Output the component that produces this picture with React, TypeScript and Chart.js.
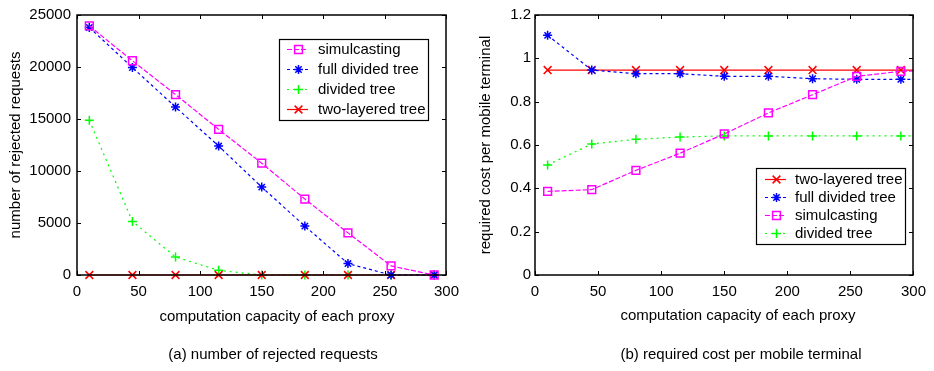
import React, { useEffect, useRef } from "react";
import { Chart, registerables } from "chart.js";

Chart.register(...registerables);

const FONT = '"Liberation Sans", Arial, Helvetica, sans-serif';

// ---- data ----
const capacity = [10, 45, 80, 115, 150, 185, 220, 255, 290];
const xTickValues = [0, 50, 100, 150, 200, 250, 300];

// (a) number of rejected requests
const rejectedSimulcasting = [23950, 20600, 17350, 14000, 10750, 7300, 4050, 870, 0];
const rejectedFullDivided = [23800, 19950, 16150, 12400, 8450, 4700, 1100, 0, 0];
const rejectedDivided = [14870, 5150, 1730, 450, 0, 0, 0, 0, 0];
const rejectedTwoLayered = [0, 0, 0, 0, 0, 0, 0, 0, 0];
const rejectedTicks = [0, 5000, 10000, 15000, 20000, 25000];

// (b) required cost per mobile terminal (last point lies beyond the axis limit)
const costCapacity = [10, 45, 80, 115, 150, 185, 220, 255, 290, 325];
const costTwoLayered = [0.946, 0.946, 0.946, 0.946, 0.946, 0.946, 0.946, 0.946, 0.946, 0.946];
const costFullDivided = [1.106, 0.946, 0.929, 0.929, 0.917, 0.917, 0.906, 0.903, 0.903, 0.903];
const costSimulcasting = [0.386, 0.394, 0.483, 0.562, 0.651, 0.748, 0.832, 0.917, 0.94, 0.945];
const costDivided = [0.508, 0.605, 0.626, 0.637, 0.642, 0.642, 0.642, 0.642, 0.642, 0.642];
const costTicks = [0, 0.2, 0.4, 0.6, 0.8, 1, 1.2];

const xTitle = "computation capacity of each proxy";
const captionA = "(a) number of rejected requests";
const captionB = "(b) required cost per mobile terminal";

const MAGENTA = "#ff00ff";
const BLUE = "#0000ff";
const GREEN = "#00ff00";
const RED = "#ff0000";

const DASH_SIM = [5, 2];
const DASH_FULL = [3, 3];
const DASH_DIV = [2, 4];
const SOLID: number[] = [];

// ---- helpers ----
function drawMarker(ctx: CanvasRenderingContext2D, style: string, x: number, y: number, r: number) {
  ctx.beginPath();
  const d = r * Math.SQRT1_2;
  if (style === "rect") {
    ctx.rect(x - d, y - d, 2 * d, 2 * d);
  } else if (style === "cross" || style === "star") {
    ctx.moveTo(x, y - r);
    ctx.lineTo(x, y + r);
    ctx.moveTo(x - r, y);
    ctx.lineTo(x + r, y);
  }
  if (style === "crossRot" || style === "star") {
    ctx.moveTo(x - d, y - d);
    ctx.lineTo(x + d, y + d);
    ctx.moveTo(x - d, y + d);
    ctx.lineTo(x + d, y - d);
  }
  ctx.stroke();
}

function makeSeries(label: string, xs: number[], ys: number[], color: string, dash: number[], style: string, radius: number, order: number, hideLast = false) {
  return {
    label,
    data: xs.map((x, i) => ({ x, y: ys[i] })),
    borderColor: color,
    backgroundColor: color,
    borderDash: dash,
    borderWidth: 1.2,
    pointStyle: style,
    pointRadius: xs.map((_, i) => (hideLast && i === xs.length - 1 ? 0 : radius)),
    pointBorderColor: color,
    pointBackgroundColor: "rgba(255,255,255,0)",
    pointBorderWidth: 1.5,
    fill: false,
    tension: 0,
    order,
    clip: { left: 10, top: 10, right: hideLast ? 0 : 10, bottom: 10 },
  };
}

function framePlugin(xTicks: number[], yTicks: number[]) {
  return {
    id: "frameTicks",
    afterDatasetsDraw(chart: any) {
      const { ctx, chartArea } = chart;
      const l = Math.round(chartArea.left);
      const r = Math.round(chartArea.right);
      const t = Math.round(chartArea.top);
      const b = Math.round(chartArea.bottom);
      ctx.save();
      ctx.strokeStyle = "#000";
      ctx.lineWidth = 1.5;
      ctx.setLineDash([]);
      ctx.strokeRect(l, t, r - l, b - t);
      const len = 4;
      ctx.lineWidth = 1;
      ctx.beginPath();
      xTicks.forEach((v) => {
        const px = Math.round(chart.scales.x.getPixelForValue(v)) + 0.5;
        ctx.moveTo(px, b);
        ctx.lineTo(px, b - len);
        ctx.moveTo(px, t);
        ctx.lineTo(px, t + len);
      });
      yTicks.forEach((v) => {
        const py = Math.round(chart.scales.y.getPixelForValue(v)) + 0.5;
        ctx.moveTo(l, py);
        ctx.lineTo(l + len, py);
        ctx.moveTo(r, py);
        ctx.lineTo(r - len, py);
      });
      ctx.stroke();
      ctx.restore();
    },
  };
}

function textPlugin(items: { text: string; x: number; y: number }[]) {
  return {
    id: "texts",
    afterDraw(chart: any) {
      const ctx = chart.ctx;
      ctx.save();
      ctx.fillStyle = "#000";
      ctx.font = `15px ${FONT}`;
      ctx.textAlign = "center";
      ctx.textBaseline = "middle";
      items.forEach((it) => ctx.fillText(it.text, it.x, it.y));
      ctx.restore();
    },
  };
}

function legendPlugin(cfg: { box: [number, number, number, number]; rowY: number; rowH: number; lineX1: number; lineX2: number; textX: number; order: number[] }) {
  return {
    id: "boxLegend",
    afterDraw(chart: any) {
      const ctx = chart.ctx;
      const [bx, by, bw, bh] = cfg.box;
      ctx.save();
      ctx.fillStyle = "#fff";
      ctx.fillRect(bx, by, bw, bh);
      ctx.strokeStyle = "#000";
      ctx.lineWidth = 1.2;
      ctx.setLineDash([]);
      ctx.strokeRect(bx + 0.5, by + 0.5, bw, bh);
      ctx.font = `15px ${FONT}`;
      ctx.textBaseline = "middle";
      ctx.textAlign = "left";
      cfg.order.forEach((di, k) => {
        const ds = chart.data.datasets[di];
        const y = Math.round(cfg.rowY + k * cfg.rowH) + 0.5;
        ctx.strokeStyle = ds.borderColor;
        ctx.lineWidth = 1.2;
        ctx.setLineDash(ds.borderDash || []);
        ctx.beginPath();
        ctx.moveTo(cfg.lineX1, y);
        ctx.lineTo(cfg.lineX2, y);
        ctx.stroke();
        ctx.setLineDash([]);
        ctx.lineWidth = 1.5;
        const r = Array.isArray(ds.pointRadius) ? ds.pointRadius[0] : ds.pointRadius;
        drawMarker(ctx, ds.pointStyle, Math.round((cfg.lineX1 + cfg.lineX2) / 2) + 0.5, y, r);
        ctx.fillStyle = "#000";
        ctx.fillText(ds.label, cfg.textX, y);
      });
      ctx.restore();
    },
  };
}

function baseScales(opts: { yWidth: number; yTitle: string; yTitlePad: number; yTickPad: number; yMax: number; yTicks: number[] }) {
  const tickFont = { family: FONT, size: 15 };
  return {
    x: {
      type: "linear",
      min: 0,
      max: 300,
      grid: { display: false, drawTicks: false },
      border: { display: false },
      ticks: { color: "#000", font: tickFont, padding: 8, callback: (v: any) => String(v) },
      afterBuildTicks: (s: any) => {
        s.ticks = xTickValues.map((v) => ({ value: v }));
      },
      afterFit: (s: any) => {
        s.height = 96;
      },
    },
    y: {
      type: "linear",
      min: 0,
      max: opts.yMax,
      grid: { display: false, drawTicks: false },
      border: { display: false },
      ticks: { color: "#000", font: tickFont, padding: opts.yTickPad, callback: (v: any) => String(v) },
      afterBuildTicks: (s: any) => {
        s.ticks = opts.yTicks.map((v) => ({ value: v }));
      },
      title: {
        display: true,
        text: opts.yTitle,
        color: "#000",
        font: { family: FONT, size: 15 },
        padding: { top: opts.yTitlePad, bottom: 0 },
      },
      afterFit: (s: any) => {
        s.width = opts.yWidth;
      },
    },
  };
}

function buildLeft(): any {
  return {
    type: "line",
    data: {
      datasets: [
        makeSeries("simulcasting", capacity, rejectedSimulcasting, MAGENTA, DASH_SIM, "rect", 5.5, 0),
        makeSeries("full divided tree", capacity, rejectedFullDivided, BLUE, DASH_FULL, "star", 4.5, 1),
        makeSeries("divided tree", capacity, rejectedDivided, GREEN, DASH_DIV, "cross", 4.5, 3),
        makeSeries("two-layered tree", capacity, rejectedTwoLayered, RED, SOLID, "crossRot", 5.5, 2),
      ],
    },
    options: {
      animation: false,
      responsive: false,
      layout: { padding: { left: 0, top: 15, right: 16, bottom: 0 } },
      plugins: { legend: { display: false }, tooltip: { enabled: false } },
      scales: baseScales({ yWidth: 77, yTitle: "number of rejected requests", yTitlePad: 7, yTickPad: 6, yMax: 25000, yTicks: rejectedTicks }),
    },
    plugins: [
      framePlugin(xTickValues, rejectedTicks),
      textPlugin([
        { text: xTitle, x: 277, y: 317 },
        { text: captionA, x: 273, y: 355 },
      ]),
      legendPlugin({ box: [279, 39, 149, 81], rowY: 48.5, rowH: 20, lineX1: 287, lineX2: 308, textX: 318, order: [0, 1, 2, 3] }),
    ],
  };
}

function buildRight(): any {
  return {
    type: "line",
    data: {
      datasets: [
        makeSeries("two-layered tree", costCapacity, costTwoLayered, RED, SOLID, "crossRot", 5.5, 2, true),
        makeSeries("full divided tree", costCapacity, costFullDivided, BLUE, DASH_FULL, "star", 4.5, 1, true),
        makeSeries("simulcasting", costCapacity, costSimulcasting, MAGENTA, DASH_SIM, "rect", 5.5, 0, true),
        makeSeries("divided tree", costCapacity, costDivided, GREEN, DASH_DIV, "cross", 4.5, 3, true),
      ],
    },
    options: {
      animation: false,
      responsive: false,
      layout: { padding: { left: 0, top: 15, right: 15, bottom: 0 } },
      plugins: { legend: { display: false }, tooltip: { enabled: false } },
      scales: baseScales({ yWidth: 68, yTitle: "required cost per mobile terminal", yTitlePad: 10, yTickPad: 4, yMax: 1.2, yTicks: costTicks }),
    },
    plugins: [
      framePlugin(xTickValues, costTicks),
      textPlugin([
        { text: xTitle, x: 271, y: 316 },
        { text: captionB, x: 274, y: 355 },
      ]),
      legendPlugin({ box: [289, 168, 149, 76], rowY: 179.3, rowH: 17.8, lineX1: 298, lineX2: 319, textX: 328, order: [0, 1, 2, 3] }),
    ],
  };
}

function ChartPanel({ left, width, height, build }: { left: number; width: number; height: number; build: () => any }) {
  const ref = useRef<HTMLCanvasElement>(null);
  useEffect(() => {
    const chart = new Chart(ref.current as HTMLCanvasElement, build());
    return () => chart.destroy();
  }, []);
  return (
    <div style={{ position: "absolute", left, top: 0, width, height }}>
      <canvas ref={ref} width={width} height={height} style={{ width, height, display: "block" }} />
    </div>
  );
}

export default function App() {
  return (
    <div style={{ position: "fixed", left: 0, top: 0, width: 934, height: 371, background: "#fff", overflow: "hidden" }}>
      <ChartPanel left={0} width={467} height={371} build={buildLeft} />
      <ChartPanel left={467} width={467} height={371} build={buildRight} />
    </div>
  );
}
